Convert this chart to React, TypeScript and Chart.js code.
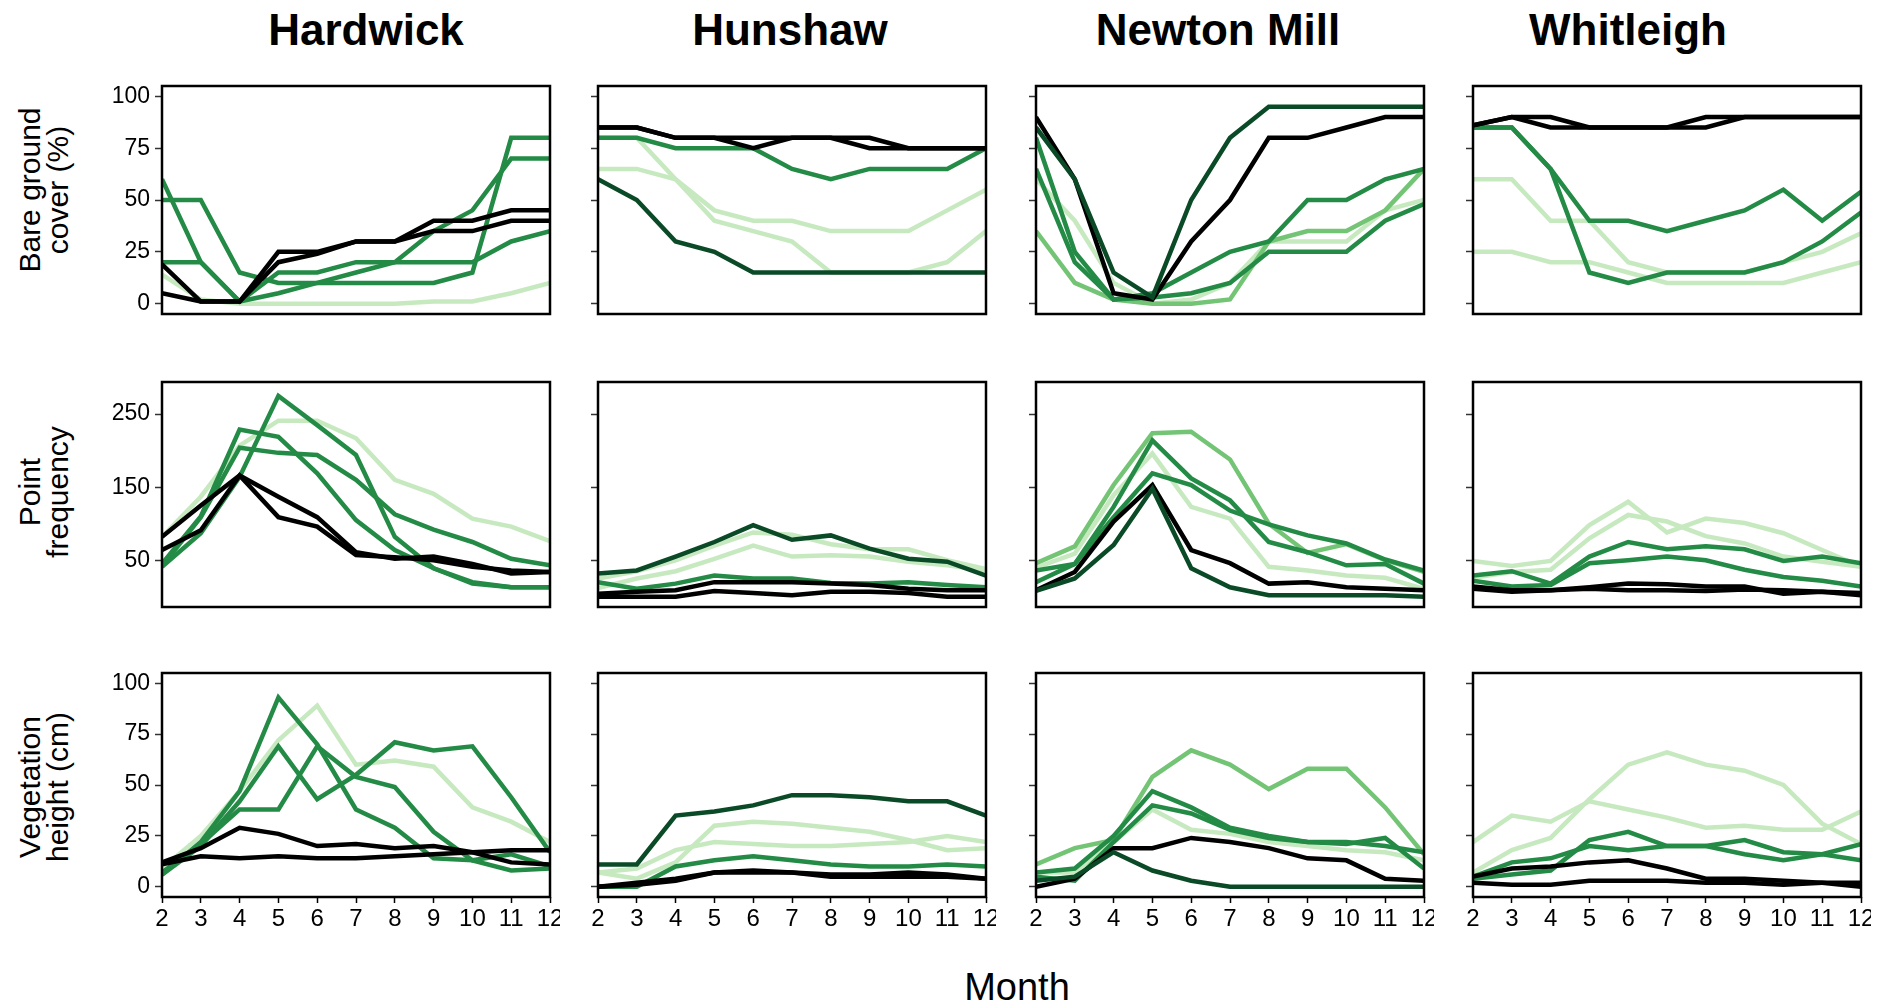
import React, { useEffect, useRef } from "react";
import { Chart, registerables } from "chart.js";
Chart.register(...registerables);

const months = [2, 3, 4, 5, 6, 7, 8, 9, 10, 11, 12];
const sites = ["Hardwick", "Hunshaw", "Newton Mill", "Whitleigh"];
const rowTitles = [["Bare ground", "cover (%)"], ["Point", "frequency"], ["Vegetation", "height (cm)"]];
const bareTicks = [0, 25, 50, 75, 100];
const freqTicks = [50, 150, 250];
const heightTicks = [0, 25, 50, 75, 100];
const xTitle = "Month";

// ---- Bare ground cover (%) ----
const hwB_k1 = [5, 1, 1, 25, 25, 30, 30, 35, 35, 40, 40];
const hwB_k2 = [19, 1, 1, 20, 24, 30, 30, 40, 40, 45, 45];
const hwB_g1 = [60, 20, 1, 15, 15, 20, 20, 20, 20, 30, 35];
const hwB_g2 = [50, 50, 15, 10, 10, 10, 10, 10, 15, 80, 80];
const hwB_g3 = [20, 20, 1, 5, 10, 15, 20, 35, 45, 70, 70];
const hwB_p1 = [14, 2, 0, 0, 0, 0, 0, 1, 1, 5, 10];

const hsB_k1 = [85, 85, 80, 80, 80, 80, 80, 80, 75, 75, 75];
const hsB_k2 = [85, 85, 80, 80, 75, 80, 80, 75, 75, 75, 75];
const hsB_g1 = [80, 80, 75, 75, 75, 65, 60, 65, 65, 65, 75];
const hsB_p1 = [80, 80, 60, 40, 35, 30, 15, 15, 15, 20, 35];
const hsB_p2 = [65, 65, 60, 45, 40, 40, 35, 35, 35, 45, 55];
const hsB_d1 = [60, 50, 30, 25, 15, 15, 15, 15, 15, 15, 15];

const nmB_k1 = [90, 60, 5, 2, 30, 50, 80, 80, 85, 90, 90];
const nmB_d1 = [85, 60, 15, 3, 50, 80, 95, 95, 95, 95, 95];
const nmB_g1 = [80, 25, 2, 5, 15, 25, 30, 50, 50, 60, 65];
const nmB_g2 = [65, 20, 2, 3, 5, 10, 25, 25, 25, 40, 48];
const nmB_m1 = [35, 10, 2, 0, 0, 2, 30, 35, 35, 45, 65];
const nmB_p1 = [60, 40, 10, 0, 2, 10, 30, 30, 30, 45, 50];

const wlB_k1 = [86, 90, 90, 85, 85, 85, 90, 90, 90, 90, 90];
const wlB_k2 = [86, 90, 85, 85, 85, 85, 85, 90, 90, 90, 90];
const wlB_g1 = [85, 85, 65, 40, 40, 35, 40, 45, 55, 40, 54];
const wlB_g2 = [85, 85, 65, 15, 10, 15, 15, 15, 20, 30, 44];
const wlB_p1 = [60, 60, 40, 40, 20, 15, 15, 15, 20, 25, 34];
const wlB_p2 = [25, 25, 20, 20, 15, 10, 10, 10, 10, 15, 20];

// ---- Point frequency ----
const hwF_k1 = [82, 125, 166, 137, 109, 61, 52, 55, 45, 32, 34];
const hwF_k2 = [64, 91, 166, 109, 96, 57, 54, 50, 41, 36, 34];
const hwF_p1 = [82, 137, 207, 241, 241, 217, 160, 141, 107, 96, 76];
const hwF_g1 = [45, 110, 229, 219, 169, 105, 64, 39, 18, 13, 13];
const hwF_g2 = [42, 109, 204, 197, 194, 160, 113, 92, 75, 52, 43];
const hwF_g3 = [41, 87, 164, 275, 235, 194, 82, 39, 20, 13, 13];

const hsF_d1 = [32, 36, 55, 75, 98, 78, 84, 66, 52, 48, 29];
const hsF_p1 = [25, 35, 50, 70, 88, 85, 72, 65, 65, 50, 38];
const hsF_p2 = [12, 25, 35, 52, 70, 55, 57, 55, 48, 43, 36];
const hsF_g1 = [20, 11, 18, 29, 25, 25, 19, 18, 20, 16, 13];
const hsF_k1 = [4, 7, 9, 20, 20, 20, 18, 16, 11, 9, 9];
const hsF_k2 = [0, 0, 0, 8, 5, 2, 7, 7, 5, 0, 0];

const nmF_m1 = [46, 69, 153, 224, 226, 188, 100, 60, 72, 50, 34];
const nmF_g1 = [20, 45, 123, 214, 162, 132, 75, 61, 43, 45, 18];
const nmF_g2 = [36, 45, 109, 169, 153, 118, 99, 84, 73, 51, 36];
const nmF_p1 = [40, 59, 139, 196, 123, 107, 41, 36, 29, 26, 11];
const nmF_k1 = [9, 34, 103, 153, 64, 46, 18, 20, 13, 11, 9];
const nmF_d1 = [8, 25, 71, 148, 39, 13, 2, 2, 2, 2, 0];

const wlF_p1 = [49, 42, 49, 98, 130, 88, 107, 101, 87, 64, 41];
const wlF_p2 = [26, 34, 37, 80, 112, 103, 83, 73, 55, 48, 41];
const wlF_g1 = [29, 35, 18, 55, 75, 65, 69, 65, 49, 55, 46];
const wlF_g2 = [22, 14, 16, 46, 50, 55, 50, 37, 27, 22, 14];
const wlF_k1 = [14, 9, 9, 13, 18, 17, 14, 14, 4, 7, 5];
const wlF_k2 = [11, 7, 9, 11, 9, 9, 8, 10, 9, 7, 2];

// ---- Vegetation height (cm) ----
const hwH_k1 = [12, 19, 29, 26, 20, 21, 19, 20, 17, 12, 11];
const hwH_k2 = [11, 15, 14, 15, 14, 14, 15, 16, 17, 18, 18];
const hwH_p1 = [9, 25, 47, 72, 89, 60, 62, 59, 39, 32, 22];
const hwH_g1 = [6, 22, 47, 93, 70, 38, 29, 14, 13, 16, 10];
const hwH_g2 = [6, 20, 42, 69, 43, 55, 71, 67, 69, 44, 17];
const hwH_g3 = [7, 21, 38, 38, 69, 54, 49, 27, 13, 8, 9];

const hsH_d1 = [11, 11, 35, 37, 40, 45, 45, 44, 42, 42, 35];
const hsH_p1 = [7, 4, 12, 30, 32, 31, 29, 27, 23, 18, 19];
const hsH_p2 = [7, 9, 18, 22, 21, 20, 20, 21, 22, 25, 22];
const hsH_g1 = [0, 0, 10, 13, 15, 13, 11, 10, 10, 11, 10];
const hsH_k1 = [0, 2, 4, 7, 8, 7, 6, 6, 7, 6, 4];
const hsH_k2 = [0, 1, 3, 7, 7, 7, 5, 5, 5, 5, 4];

const nmH_m1 = [11, 19, 23, 54, 67, 60, 48, 58, 58, 39, 16];
const nmH_g1 = [7, 9, 25, 47, 39, 29, 25, 22, 21, 24, 9];
const nmH_g2 = [5, 3, 22, 40, 36, 28, 24, 22, 22, 20, 17];
const nmH_p1 = [7, 7, 22, 38, 28, 26, 22, 20, 18, 17, 13];
const nmH_k1 = [0, 4, 19, 19, 24, 22, 19, 14, 13, 4, 3];
const nmH_d1 = [3, 5, 17, 8, 3, 0, 0, 0, 0, 0, 0];

const wlH_p1 = [22, 35, 32, 42, 38, 34, 29, 30, 28, 28, 37];
const wlH_p2 = [7, 18, 24, 43, 60, 66, 60, 57, 50, 31, 21];
const wlH_g1 = [5, 12, 14, 20, 18, 20, 20, 23, 17, 16, 21];
const wlH_g2 = [4, 6, 8, 23, 27, 20, 20, 16, 13, 16, 13];
const wlH_k1 = [5, 9, 10, 12, 13, 9, 4, 4, 3, 2, 0];
const wlH_k2 = [2, 1, 1, 3, 3, 3, 2, 2, 1, 2, 2];

const COLORS: Record<string, string> = {
  k: "#000000",
  d: "#0a4a26",
  g: "#238b45",
  m: "#74c476",
  p: "#c7e9c0",
};

type S = { d: number[]; c: string };
// first item is drawn on top
const panelSeries: S[][][] = [
  [
    [{ d: hwB_k1, c: "k" }, { d: hwB_k2, c: "k" }, { d: hwB_g1, c: "g" }, { d: hwB_g2, c: "g" }, { d: hwB_g3, c: "g" }, { d: hwB_p1, c: "p" }],
    [{ d: hsB_k1, c: "k" }, { d: hsB_k2, c: "k" }, { d: hsB_d1, c: "d" }, { d: hsB_g1, c: "g" }, { d: hsB_p1, c: "p" }, { d: hsB_p2, c: "p" }],
    [{ d: nmB_d1, c: "d" }, { d: nmB_k1, c: "k" }, { d: nmB_g1, c: "g" }, { d: nmB_g2, c: "g" }, { d: nmB_m1, c: "m" }, { d: nmB_p1, c: "p" }],
    [{ d: wlB_k1, c: "k" }, { d: wlB_k2, c: "k" }, { d: wlB_g1, c: "g" }, { d: wlB_g2, c: "g" }, { d: wlB_p1, c: "p" }, { d: wlB_p2, c: "p" }],
  ],
  [
    [{ d: hwF_k1, c: "k" }, { d: hwF_k2, c: "k" }, { d: hwF_g1, c: "g" }, { d: hwF_g2, c: "g" }, { d: hwF_g3, c: "g" }, { d: hwF_p1, c: "p" }],
    [{ d: hsF_d1, c: "d" }, { d: hsF_k1, c: "k" }, { d: hsF_k2, c: "k" }, { d: hsF_g1, c: "g" }, { d: hsF_p1, c: "p" }, { d: hsF_p2, c: "p" }],
    [{ d: nmF_d1, c: "d" }, { d: nmF_k1, c: "k" }, { d: nmF_g1, c: "g" }, { d: nmF_g2, c: "g" }, { d: nmF_m1, c: "m" }, { d: nmF_p1, c: "p" }],
    [{ d: wlF_k1, c: "k" }, { d: wlF_k2, c: "k" }, { d: wlF_g1, c: "g" }, { d: wlF_g2, c: "g" }, { d: wlF_p1, c: "p" }, { d: wlF_p2, c: "p" }],
  ],
  [
    [{ d: hwH_k1, c: "k" }, { d: hwH_k2, c: "k" }, { d: hwH_g1, c: "g" }, { d: hwH_g2, c: "g" }, { d: hwH_g3, c: "g" }, { d: hwH_p1, c: "p" }],
    [{ d: hsH_d1, c: "d" }, { d: hsH_k1, c: "k" }, { d: hsH_k2, c: "k" }, { d: hsH_g1, c: "g" }, { d: hsH_p1, c: "p" }, { d: hsH_p2, c: "p" }],
    [{ d: nmH_d1, c: "d" }, { d: nmH_k1, c: "k" }, { d: nmH_g1, c: "g" }, { d: nmH_g2, c: "g" }, { d: nmH_m1, c: "m" }, { d: nmH_p1, c: "p" }],
    [{ d: wlH_k1, c: "k" }, { d: wlH_k2, c: "k" }, { d: wlH_g1, c: "g" }, { d: wlH_g2, c: "g" }, { d: wlH_p1, c: "p" }, { d: wlH_p2, c: "p" }],
  ],
];

const rowTicks = [bareTicks, freqTicks, heightTicks];
const rowRange = [
  [-5, 105],
  [-14, 294],
  [-5, 105],
];

const BOX_LEFT = [162, 598, 1036, 1473];
const BOX_W = 388;
const BOX_TOP = [86, 382, 673];
const BOX_H = [228, 225, 224];
const TITLE_X = [366, 790, 1218, 1628];
const ROW_LABEL_Y = [190, 492, 787];
const FONT = "'Liberation Sans', Arial, Helvetica, sans-serif";

const framePlugin = {
  id: "frame",
  afterDraw(chart: any) {
    const { ctx, chartArea } = chart;
    const { left, top, right, bottom } = chartArea;
    ctx.save();
    ctx.strokeStyle = "#000";
    ctx.lineWidth = 2.5;
    ctx.strokeRect(left, top, right - left, bottom - top);
    ctx.restore();
  },
};

function zeroPad(s: any) {
  s.paddingTop = 0;
  s.paddingBottom = 0;
  s.paddingLeft = 0;
  s.paddingRight = 0;
}

function Panel({ row, col }: { row: number; col: number }) {
  const ref = useRef<HTMLCanvasElement | null>(null);
  const padL = 70;
  const padR = 10;
  const padT = 8;
  const padB = row === 2 ? 52 : 8;
  const W = BOX_W + padL + padR;
  const H = BOX_H[row] + padT + padB;

  useEffect(() => {
    const series = panelSeries[row][col];
    const ticks = rowTicks[row];
    const [ymin, ymax] = rowRange[row];
    const chart = new Chart(ref.current as HTMLCanvasElement, {
      type: "line",
      data: {
        datasets: series.map((s) => ({
          data: months.map((m, i) => ({ x: m, y: s.d[i] })),
          borderColor: COLORS[s.c],
          borderWidth: 4.5,
          pointRadius: 0,
          tension: 0,
          fill: false,
        })),
      },
      options: {
        animation: false,
        responsive: false,
        maintainAspectRatio: false,
        devicePixelRatio: 1,
        layout: { autoPadding: false, padding: { top: padT, right: padR, left: 0, bottom: 0 } },
        plugins: { legend: { display: false }, tooltip: { enabled: false } },
        scales: {
          x: {
            type: "linear",
            min: 2,
            max: 12,
            afterBuildTicks: (s: any) => {
              s.ticks = months.map((v) => ({ value: v }));
            },
            afterFit: (s: any) => {
              s.height = padB;
              zeroPad(s);
            },
            ticks: {
              display: row === 2,
              color: "#000",
              font: { family: FONT, size: 24 },
              padding: 2,
              maxRotation: 0,
              autoSkip: false,
            },
            grid: {
              display: row === 2,
              drawOnChartArea: false,
              drawTicks: true,
              tickLength: 6,
              tickColor: "#000",
              tickWidth: 1.5,
            },
            border: { display: false },
          },
          y: {
            type: "linear",
            min: ymin,
            max: ymax,
            afterBuildTicks: (s: any) => {
              s.ticks = ticks.map((v) => ({ value: v }));
            },
            afterFit: (s: any) => {
              s.width = padL;
              zeroPad(s);
            },
            ticks: {
              display: col === 0,
              color: "#000",
              font: { family: FONT, size: 23 },
              padding: 5,
            },
            grid: {
              display: true,
              drawOnChartArea: false,
              drawTicks: true,
              tickLength: 7,
              tickColor: "#333",
              tickWidth: 1.5,
            },
            border: { display: false },
          },
        },
      },
      plugins: [framePlugin],
    } as any);
    return () => chart.destroy();
  }, [row, col]);

  return (
    <canvas
      ref={ref}
      width={W}
      height={H}
      style={{ position: "absolute", left: BOX_LEFT[col] - padL, top: BOX_TOP[row] - padT, width: W, height: H }}
    />
  );
}

export default function App() {
  const panels = [];
  for (let r = 0; r < 3; r++) for (let c = 0; c < 4; c++) panels.push(<Panel key={`${r}-${c}`} row={r} col={c} />);
  return (
    <div style={{ position: "absolute", left: 0, top: 0, width: 1899, height: 1006, background: "#fff", fontFamily: FONT, overflow: "hidden" }}>
      {sites.map((s, i) => (
        <div
          key={s}
          style={{
            position: "absolute",
            left: TITLE_X[i],
            top: 30,
            transform: "translate(-50%, -50%)",
            fontSize: 44,
            fontWeight: "bold",
            whiteSpace: "nowrap",
            color: "#000",
          }}
        >
          {s}
        </div>
      ))}
      {rowTitles.map((lines, r) => (
        <div
          key={r}
          style={{
            position: "absolute",
            left: 44,
            top: ROW_LABEL_Y[r],
            transform: "translate(-50%, -50%) rotate(-90deg)",
            fontSize: 30,
            lineHeight: "28px",
            textAlign: "center",
            whiteSpace: "nowrap",
            color: "#000",
          }}
        >
          {lines.map((l) => (
            <div key={l}>{l}</div>
          ))}
        </div>
      ))}
      {panels}
      <div
        style={{
          position: "absolute",
          left: 1017,
          top: 987,
          transform: "translate(-50%, -50%)",
          fontSize: 38,
          whiteSpace: "nowrap",
          color: "#000",
        }}
      >
        {xTitle}
      </div>
    </div>
  );
}
